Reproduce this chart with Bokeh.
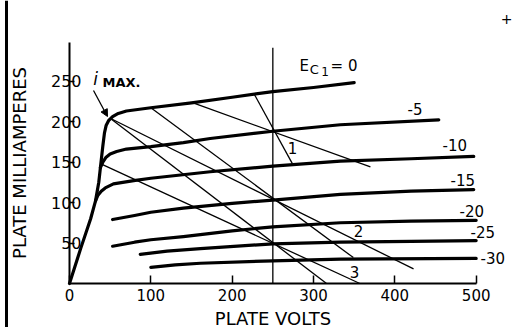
from bokeh.plotting import figure
from bokeh.models import LinearAxis, FixedTicker, Range1d, Span, Arrow, NormalHead, Label
from bokeh.embed import file_html
from bokeh.resources import INLINE

# ---- data (plate volts, plate milliamperes) ----
ec0_v = [0, 14, 26, 32, 36, 38, 41, 43, 45, 48, 53, 60, 70, 100, 150, 200, 250, 300, 350]
ec0_ma = [0, 44, 80, 102, 125, 143, 170, 186, 195, 201, 206, 210, 213, 217, 223, 230, 237, 242, 248]

ec5_v = [38, 41, 45, 50, 58, 70, 100, 140, 173, 250, 333, 454]
ec5_ma = [143, 150, 156, 160, 163, 166, 169, 174, 179, 188, 196, 202]

ec10_v = [32, 35, 39, 44, 54, 79, 100, 173, 250, 333, 420, 497]
ec10_ma = [102, 109, 114, 118, 123, 127, 130, 138, 145, 151, 154, 157]

ec15_v = [53, 80, 100, 140, 200, 250, 333, 420, 497]
ec15_ma = [79, 84, 88, 93, 99, 103, 110, 114, 116]

ec20_v = [53, 80, 100, 140, 200, 250, 333, 420, 500]
ec20_ma = [46, 51, 54, 58, 65, 70, 75, 77, 78]

ec25_v = [87, 120, 161, 250, 333, 420, 500]
ec25_ma = [36, 40, 43, 49, 51, 52, 53]

ec30_v = [100, 130, 161, 250, 333, 500]
ec30_ma = [20, 23, 25, 28, 30, 31]

curve_labels = ["-5", "-10", "-15", "-20", "-25", "-30"]

# load lines: start / end points
load_v0 = [227, 152, 50, 100, 50, 40]
load_ma0 = [234, 223, 204, 217, 204, 147]
load_v1 = [274, 370, 423, 349, 316, 357]
load_ma1 = [148, 144, 18, 32, 0, 0]
load_names = ["1", "2", "3"]

plate_volts_q = 250
marker_top_ma = 291

x_ticks = [0, 100, 200, 300, 400, 500]
y_ticks = [50, 100, 150, 200, 250]

FONT = "DejaVu Sans"

p = figure(width=513, height=327, output_backend="svg", toolbar_location=None,
           x_axis_location=None, y_axis_location=None,
           x_range=Range1d(-84.84, 545.9), y_range=Range1d(-54.3, 349.4),
           min_border=0, min_border_left=0, min_border_right=0,
           min_border_top=0, min_border_bottom=0)
p.outline_line_color = None
p.xgrid.visible = False
p.ygrid.visible = False
p.background_fill_color = "white"
p.border_fill_color = "white"

# axes placed at the origin
xax = LinearAxis(fixed_location=0, bounds=(0, 500), ticker=FixedTicker(ticks=x_ticks),
                 axis_label="PLATE VOLTS")
yax = LinearAxis(fixed_location=0, bounds=(0, 297), ticker=FixedTicker(ticks=y_ticks),
                 axis_label="PLATE MILLIAMPERES")
for ax in (xax, yax):
    ax.axis_line_width = 2
    ax.axis_line_color = "black"
    ax.major_tick_line_width = 1.5
    ax.major_tick_line_color = "black"
    ax.minor_tick_line_color = None
    ax.major_tick_out = 0
    ax.major_label_text_font = FONT
    ax.major_label_text_color = "black"
    ax.axis_label_text_font = FONT
    ax.axis_label_text_font_size = "18px"
    ax.axis_label_text_font_style = "normal"
    ax.axis_label_text_color = "black"
xax.major_label_text_font_size = "15px"
yax.major_label_text_font_size = "16px"
xax.major_tick_in = 8
yax.major_tick_in = 5
xax.major_label_standoff = 5
yax.major_label_standoff = -12
xax.axis_label_standoff = 4
yax.axis_label_standoff = 18
p.add_layout(xax, "below")
p.add_layout(yax, "left")

# characteristic curves
for xs, ys in [(ec0_v, ec0_ma), (ec5_v, ec5_ma), (ec10_v, ec10_ma), (ec15_v, ec15_ma),
               (ec20_v, ec20_ma), (ec25_v, ec25_ma), (ec30_v, ec30_ma)]:
    p.line(xs, ys, line_width=3.2, line_color="black", line_join="round", line_cap="round")

# load lines
p.segment(x0=load_v0, y0=load_ma0, x1=load_v1, y1=load_ma1,
          line_width=1.3, line_color="black")

# vertical line at the operating plate voltage
p.segment(x0=[plate_volts_q], y0=[0], x1=[plate_volts_q], y1=[marker_top_ma],
          line_width=1.3, line_color="black")

# left border of the sheet
p.add_layout(Span(location=6, location_units="screen", dimension="height",
                  line_width=3, line_color="black"))

def lab(x, y, t, size="15px", align="left", base="middle", style="normal"):
    p.add_layout(Label(x=x, y=y, text=t, text_font=FONT, text_font_size=size,
                       text_align=align, text_baseline=base, text_color="black",
                       text_font_style=style))

# grid-voltage labels
lab(282.8, 268, "E")
lab(295.3, 264.5, "C", size="13px")
lab(309.5, 262, "1", size="12px")
lab(321.0, 269, "= 0")
label_pos = [(415.6, 216), (458.6, 170.4), (468.5, 127.2), (479.5, 90.1), (493, 63), (505.3, 32.1)]
for (lx, ly), t in zip(label_pos, curve_labels):
    lab(lx, ly, t)

# load line numbers
for (lx, ly), t in zip([(274.2, 166.7), (355.3, 65.4), (350.4, 14.8)], load_names):
    lab(lx, ly, t, align="center")

# i max annotation
lab(32, 252, "i", size="17px", align="center", style="italic")
lab(40.6, 248, "MAX.", size="13px", style="bold")
p.add_layout(Arrow(end=NormalHead(size=7, fill_color="black", line_color="black"),
                   x_start=29.5, y_start=238.3, x_end=46.7, y_end=206.2,
                   line_width=1.3, line_color="black"))

lab(537.3, 326, "+", size="14px", align="center")

open("out.html", "w").write(file_html(p, INLINE))
